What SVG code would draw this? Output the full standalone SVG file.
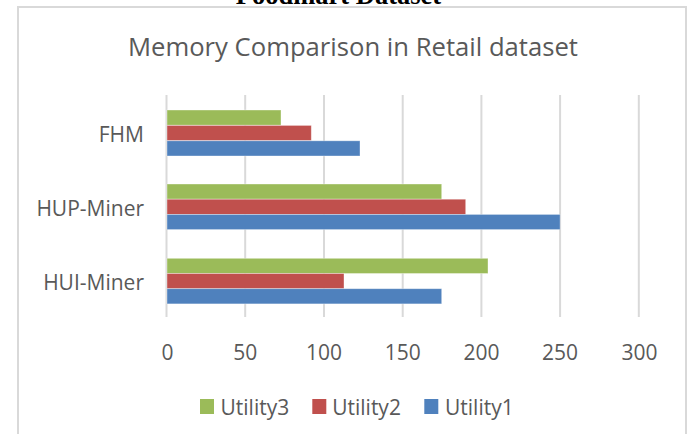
<svg xmlns="http://www.w3.org/2000/svg" width="689" height="434" viewBox="0 0 689 434">
  <style>
    .lbl { font-family: "Open Sans", "Liberation Sans", sans-serif; font-size: 21px; fill: #595959; }
    .title { font-family: "Open Sans", "Liberation Sans", sans-serif; font-size: 25px; fill: #595959; }
    .cap { font-family: "Liberation Serif", "Times New Roman", serif; font-size: 26.5px; font-weight: bold; fill: #000; }
    .grid line { stroke: #d9d9d9; stroke-width: 2; }
    .u1 { fill: #4f81bd; }
    .u2 { fill: #c0504d; }
    .u3 { fill: #9bbb59; }
    .bar { stroke: #ffffff; stroke-opacity: 0.45; stroke-width: 0.8; }
  </style>

  <rect width="689" height="434" fill="#ffffff"/>

  <!-- caption of the figure above, clipped by the page edge -->
  <text class="cap" x="338.5" y="3.5" text-anchor="middle">Foodmart Dataset</text>

  <!-- chart frame -->
  <rect x="18" y="7" width="668" height="440" fill="#ffffff" stroke="#d9d9d9" stroke-width="2"/>

  <text class="title" x="353" y="55.5" text-anchor="middle" textLength="450" lengthAdjust="spacingAndGlyphs">Memory Comparison in Retail dataset</text>

  <!-- vertical gridlines, 50 units = 78.73 px -->
  <g class="grid">
    <line x1="166.5" y1="95" x2="166.5" y2="317"/>
    <line x1="245.2" y1="95" x2="245.2" y2="317"/>
    <line x1="324" y1="95" x2="324" y2="317"/>
    <line x1="402.7" y1="95" x2="402.7" y2="317"/>
    <line x1="481.4" y1="95" x2="481.4" y2="317"/>
    <line x1="560.1" y1="95" x2="560.1" y2="317"/>
    <line x1="638.8" y1="95" x2="638.8" y2="317"/>
  </g>

  <!-- x-axis tick labels -->
  <g id="x-axis" class="lbl" text-anchor="middle">
    <text x="167.5" y="359.5">0</text>
    <text x="245.2" y="359.5">50</text>
    <text x="324" y="359.5">100</text>
    <text x="402.7" y="359.5">150</text>
    <text x="481.4" y="359.5">200</text>
    <text x="560.1" y="359.5">250</text>
    <text x="639.5" y="359.5">300</text>
  </g>

  <!-- category: FHM -->
  <g id="fhm">
    <text class="lbl" x="144" y="141.5" text-anchor="end">FHM</text>
    <rect class="bar u3" x="167" y="110" width="114" height="15.2"/>
    <rect class="bar u2" x="167" y="125.4" width="144.3" height="15.2"/>
    <rect class="bar u1" x="167" y="140.8" width="193" height="15.2"/>
  </g>

  <!-- category: HUP-Miner -->
  <g id="hup-miner">
    <text class="lbl" x="144" y="216" text-anchor="end">HUP-Miner</text>
    <rect class="bar u3" x="167" y="184" width="274.7" height="15.2"/>
    <rect class="bar u2" x="167" y="199.2" width="298.7" height="15.2"/>
    <rect class="bar u1" x="167" y="214.4" width="393.1" height="15.2"/>
  </g>

  <!-- category: HUI-Miner -->
  <g id="hui-miner">
    <text class="lbl" x="144" y="289.5" text-anchor="end">HUI-Miner</text>
    <rect class="bar u3" x="167" y="258.3" width="321" height="15.2"/>
    <rect class="bar u2" x="167" y="273.5" width="177" height="15.2"/>
    <rect class="bar u1" x="167" y="288.7" width="274.7" height="15.2"/>
  </g>

  <!-- legend -->
  <g id="legend" class="lbl">
    <rect class="u3" x="200" y="399" width="14" height="15"/>
    <text x="220.5" y="414.5">Utility3</text>
    <rect class="u2" x="312.3" y="399" width="14" height="15"/>
    <text x="332.2" y="414.5">Utility2</text>
    <rect class="u1" x="424.3" y="399" width="14" height="15"/>
    <text x="445" y="414.5">Utility1</text>
  </g>
</svg>
